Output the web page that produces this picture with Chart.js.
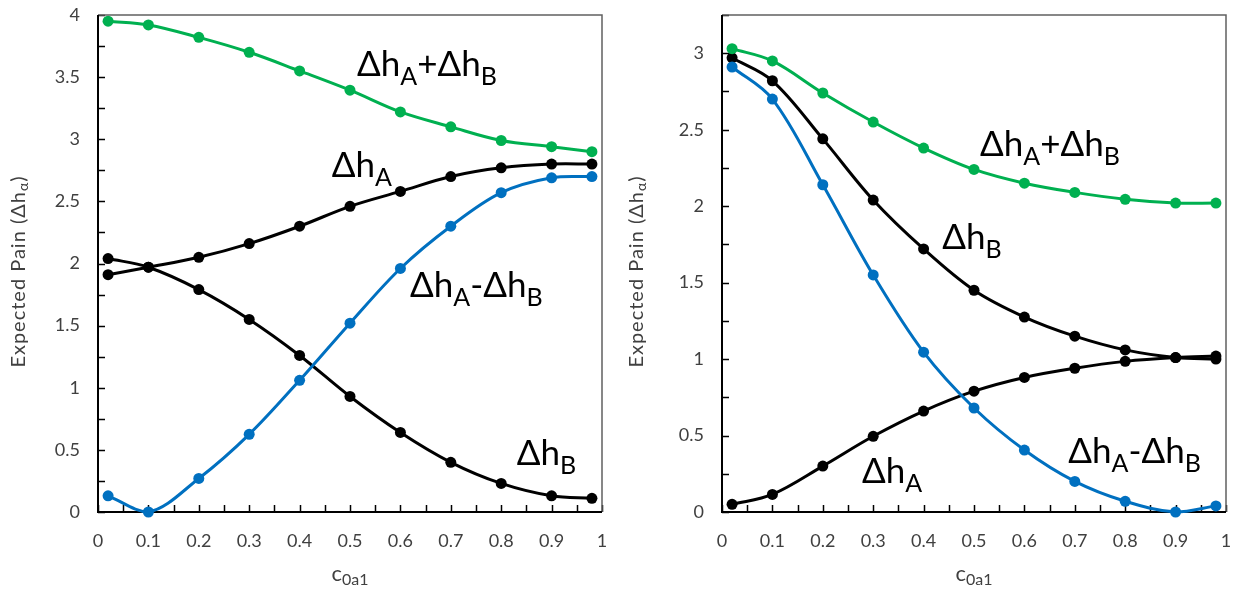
<!DOCTYPE html>
<html>
<head>
<meta charset="utf-8">
<script src="https://cdn.jsdelivr.net/npm/chart.js@4/dist/chart.umd.min.js"></script>
<style>
  html, body { margin: 0; padding: 0; background: #fff; }
  #wrap { position: relative; width: 1236px; height: 594px; }
  .cell { position: absolute; top: 0; width: 618px; height: 594px; }
  #c1 { left: 0; } #c2 { left: 618px; }
</style>
</head>
<body>
<div id="wrap">
  <div class="cell" id="c1"><canvas id="left"></canvas></div>
  <div class="cell" id="c2"><canvas id="right"></canvas></div>
</div>
<script>
// ---- data ----
const xValues = [0.02, 0.1, 0.2, 0.3, 0.4, 0.5, 0.6, 0.7, 0.8, 0.9, 0.98];

const leftSum  = [3.95, 3.92, 3.82, 3.70, 3.55, 3.395, 3.22, 3.10, 2.99, 2.94, 2.90];
const leftA    = [1.91, 1.97, 2.05, 2.16, 2.30, 2.46, 2.58, 2.70, 2.77, 2.80, 2.80];
const leftB    = [2.04, 1.97, 1.79, 1.55, 1.26, 0.93, 0.64, 0.40, 0.23, 0.13, 0.11];
const leftDiff = [0.13, 0.00, 0.27, 0.625, 1.06, 1.52, 1.96, 2.30, 2.57, 2.69, 2.70];

const rightSum  = [3.03, 2.95, 2.74, 2.55, 2.38, 2.24, 2.15, 2.09, 2.045, 2.02, 2.02];
const rightB    = [2.97, 2.82, 2.44, 2.04, 1.72, 1.45, 1.275, 1.15, 1.06, 1.01, 1.00];
const rightA    = [0.05, 0.115, 0.30, 0.495, 0.66, 0.79, 0.88, 0.94, 0.985, 1.01, 1.02];
const rightDiff = [2.91, 2.70, 2.14, 1.55, 1.045, 0.68, 0.405, 0.20, 0.07, 0.00, 0.04];

const xTickLabels = ['0', '0.1', '0.2', '0.3', '0.4', '0.5', '0.6', '0.7', '0.8', '0.9', '1'];
const yTickLabelsLeft  = ['0', '0.5', '1', '1.5', '2', '2.5', '3', '3.5', '4'];
const yTickLabelsRight = ['0', '0.5', '1', '1.5', '2', '2.5', '3'];

const yTitleParts = [['Expected Pain (Δh', 0], ['α', 1], [')', 0]];
const xTitleParts = [['c', 0], ['0a1', 1]];

const annotLeft = [
  { parts: [['Δh', 0], ['A', 1], ['+Δh', 0], ['B', 1]], x: 0.514, y: 3.51 },
  { parts: [['Δh', 0], ['A', 1]], x: 0.464, y: 2.70 },
  { parts: [['Δh', 0], ['A', 1], ['-Δh', 0], ['B', 1]], x: 0.619, y: 1.73 },
  { parts: [['Δh', 0], ['B', 1]], x: 0.831, y: 0.38 }
];
const annotRight = [
  { parts: [['Δh', 0], ['A', 1], ['+Δh', 0], ['B', 1]], x: 0.512, y: 2.33 },
  { parts: [['Δh', 0], ['B', 1]], x: 0.437, y: 1.72 },
  { parts: [['Δh', 0], ['A', 1]], x: 0.278, y: 0.19 },
  { parts: [['Δh', 0], ['A', 1], ['-Δh', 0], ['B', 1]], x: 0.687, y: 0.32 }
];

// ---- styling ----
const GREEN = '#00B050', BLUE = '#0070C0', BLACK = '#000000';
const FONT = 'Lato, "Open Sans", sans-serif';

function pts(ys) { return xValues.map((x, i) => ({ x: x, y: ys[i] })); }
function ds(ys, color) {
  return {
    data: pts(ys), borderColor: color, backgroundColor: color,
    borderWidth: 3, pointRadius: 5.5, pointHoverRadius: 5.5,
    pointBackgroundColor: color, pointBorderColor: color, pointBorderWidth: 0,
    tension: 0.35, clip: false, fill: false
  };
}

function richWidth(ctx, parts, size, subSize, ls) {
  let w = 0;
  ctx.letterSpacing = (ls || 0) + 'px';
  for (const [t, s] of parts) {
    ctx.font = (s ? subSize : size) + 'px ' + FONT;
    w += ctx.measureText(t).width;
  }
  return w;
}
function drawRich(ctx, parts, x, y, size, subSize, subDy, color, ls) {
  ctx.fillStyle = color;
  ctx.textBaseline = 'alphabetic';
  ctx.textAlign = 'left';
  ctx.letterSpacing = (ls || 0) + 'px';
  let cx = x;
  for (const [t, s] of parts) {
    ctx.font = (s ? subSize : size) + 'px ' + FONT;
    ctx.fillText(t, cx, s ? y + subDy : y);
    cx += ctx.measureText(t).width;
  }
}

function makeDecor(annots, yMinor) {
  return {
    id: 'decor',
    beforeDatasetsDraw(chart) {
      const { ctx, chartArea: a, scales: { x, y } } = chart;
      ctx.save();
      ctx.strokeStyle = '#000';
      ctx.lineWidth = 1.5;
      const tl = 7;
      ctx.beginPath();
      for (let v = 0; v <= 1.0001; v += 0.05) {
        const px = Math.round(x.getPixelForValue(v)) + 0.5;
        ctx.moveTo(px, a.bottom); ctx.lineTo(px, a.bottom - tl);
      }
      for (let v = 0; v <= y.max + 0.0001; v += yMinor) {
        const py = Math.round(y.getPixelForValue(v)) + 0.5;
        ctx.moveTo(a.left, py); ctx.lineTo(a.left + tl, py);
      }
      ctx.stroke();
      ctx.strokeStyle = '#606060';
      ctx.lineWidth = 1.5;
      ctx.beginPath();
      ctx.moveTo(a.left, a.top); ctx.lineTo(a.right, a.top); ctx.lineTo(a.right, a.bottom);
      ctx.stroke();
      ctx.strokeStyle = '#000';
      ctx.lineWidth = 2;
      ctx.beginPath();
      ctx.moveTo(a.left, a.top); ctx.lineTo(a.left, a.bottom); ctx.lineTo(a.right, a.bottom);
      ctx.stroke();
      ctx.restore();
    },
    afterDatasetsDraw(chart) {
      const { ctx, chartArea: a, scales: { x, y } } = chart;
      ctx.save();
      for (const an of annots) {
        drawRich(ctx, an.parts, x.getPixelForValue(an.x), y.getPixelForValue(an.y), 35, 25, 9, '#000', 0);
      }
      const xw = richWidth(ctx, xTitleParts, 22, 16, 0);
      drawRich(ctx, xTitleParts, (a.left + a.right) / 2 - xw / 2, 581, 22, 16, 4, '#404040', 0);
      const yw = richWidth(ctx, yTitleParts, 20, 14, 1);
      ctx.translate(25, (a.top + a.bottom) / 2 + 8);
      ctx.rotate(-Math.PI / 2);
      drawRich(ctx, yTitleParts, -yw / 2, 0, 20, 14, 3, '#404040', 1);
      ctx.restore();
    }
  };
}

function makeChart(id, sets, yMax, yLabels, yWidth, padRight, annots) {
  const xTickVals = xTickLabels.map(Number);
  const yTickVals = yLabels.map(Number);
  return new Chart(document.getElementById(id), {
    type: 'line',
    data: { datasets: sets },
    options: {
      responsive: true, maintainAspectRatio: false, animation: false,
      events: [],
      layout: { padding: { top: 15, right: padRight, left: 0, bottom: 0 } },
      plugins: { legend: { display: false }, tooltip: { enabled: false } },
      scales: {
        x: {
          type: 'linear', min: 0, max: 1,
          grid: { display: false, drawTicks: false }, border: { display: false },
          afterBuildTicks(s) { s.ticks = xTickVals.map(v => ({ value: v })); },
          ticks: {
            padding: 18, color: '#404040', font: { family: FONT, size: 18 },
            maxRotation: 0, autoSkip: false,
            callback(v) { const i = xTickVals.findIndex(t => Math.abs(t - v) < 1e-6); return i >= 0 ? xTickLabels[i] : ''; }
          },
          afterFit(s) { s.height = 82; s.paddingLeft = 0; s.paddingRight = 0; }
        },
        y: {
          type: 'linear', min: 0, max: yMax,
          grid: { display: false, drawTicks: false }, border: { display: false },
          afterBuildTicks(s) { s.ticks = yTickVals.map(v => ({ value: v })); },
          ticks: {
            padding: 18, color: '#404040', font: { family: FONT, size: 18 },
            autoSkip: false,
            callback(v) { const i = yTickVals.findIndex(t => Math.abs(t - v) < 1e-6); return i >= 0 ? yLabels[i] : ''; }
          },
          afterFit(s) { s.width = yWidth; s.paddingTop = 0; s.paddingBottom = 0; }
        }
      }
    },
    plugins: [makeDecor(annots, 0.25)]
  });
}

makeChart('left', [ds(leftSum, GREEN), ds(leftDiff, BLUE), ds(leftA, BLACK), ds(leftB, BLACK)],
  4, yTickLabelsLeft, 98, 16, annotLeft);
makeChart('right', [ds(rightSum, GREEN), ds(rightDiff, BLUE), ds(rightA, BLACK), ds(rightB, BLACK)],
  3.25, yTickLabelsRight, 104, 10, annotRight);
</script>
</body>
</html>
